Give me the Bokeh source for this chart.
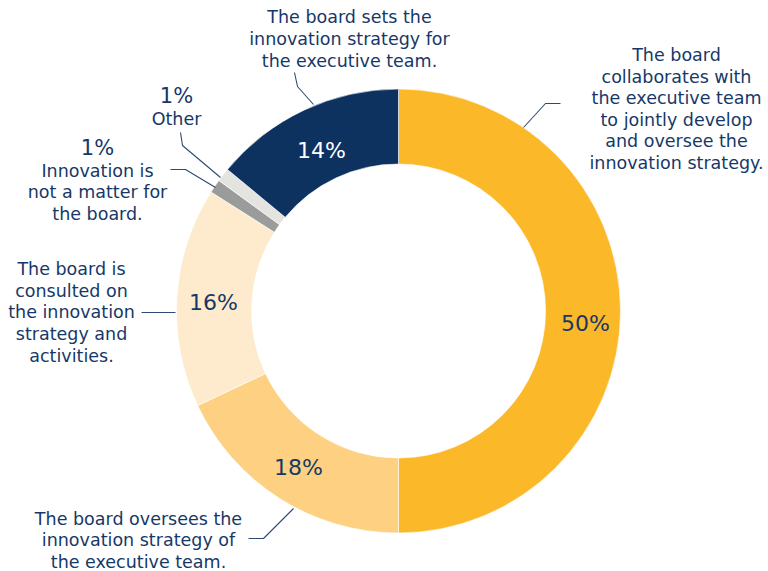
import math
from bokeh.plotting import figure
from bokeh.models import Range1d
from bokeh.core.properties import value
from bokeh.embed import file_html
from bokeh.resources import INLINE

# ---- data ----
categories = [
    "The board collaborates with the executive team to jointly develop and oversee the innovation strategy.",
    "The board oversees the innovation strategy of the executive team.",
    "The board is consulted on the innovation strategy and activities.",
    "Innovation is not a matter for the board.",
    "Other",
    "The board sets the innovation strategy for the executive team.",
]
shares = [50, 18, 16, 1, 1, 14]
pct_labels = ["50%", "18%", "16%", "1%", "1%", "14%"]
colors = ["#FBB829", "#FDD181", "#FEEBCD", "#9A9C9B", "#E3E4DF", "#0E3260"]

NAVY = "#163868"
FONT = "DejaVu Sans"

W, H = 768, 571
p = figure(width=W, height=H, output_backend="svg", toolbar_location=None,
           x_range=Range1d(0, W), y_range=Range1d(0, H),
           min_border=0)
p.axis.visible = False
p.grid.visible = False
p.outline_line_color = None
p.background_fill_color = "white"
p.border_fill_color = "white"

def Y(py):
    return 571 - py

cx, cy = 398, Y(310.5)
r_out, r_in = 222, 147

total = sum(shares)
starts, ends = [], []
cum = 0
for s in shares:
    a0 = math.pi / 2 - 2 * math.pi * cum / total
    cum += s
    a1 = math.pi / 2 - 2 * math.pi * cum / total
    starts.append(a0)
    ends.append(a1)

p.annular_wedge(x=[cx] * len(shares), y=[cy] * len(shares), inner_radius=r_in, outer_radius=r_out,
                start_angle=starts, end_angle=ends, direction="clock",
                fill_color=colors, line_color="white", line_width=0.6)

# percentage labels inside ring (large slices)
inner_pos = {0: (585, 323), 1: (298, 467), 2: (213, 302), 5: (321, 150)}
for i, (px, py) in inner_pos.items():
    p.text(x=[px], y=[Y(py)], text=[pct_labels[i]], text_font=value(FONT), text_font_size="22px",
           text_align="center", text_baseline="middle",
           text_color="white" if i == 5 else NAVY)

# leader lines
leaders = [
    [(523, 127), (545, 103), (560, 103)],
    [(293, 508), (263, 538), (248, 538)],
    [(175, 312), (141, 312)],
    [(215, 187), (185, 169), (170, 169)],
    [(220, 177), (182, 145), (180, 132)],
    [(313, 104), (297, 86), (294, 72)],
]
for pts in leaders:
    p.line(x=[a for a, b in pts], y=[Y(b) for a, b in pts], line_color="#2E4A73", line_width=1.1)

# outside text blocks
blocks = [
    (676, 108.5, "The board\ncollaborates with\nthe executive team\nto jointly develop\nand oversee the\ninnovation strategy."),
    (138, 540, "The board oversees the\ninnovation strategy of\nthe executive team."),
    (71, 312, "The board is\nconsulted on\nthe innovation\nstrategy and\nactivities."),
    (97, 192, "Innovation is\nnot a matter for\nthe board."),
    (176, 118, "Other"),
    (349, 38.5, "The board sets the\ninnovation strategy for\nthe executive team."),
]
for bx, by, t in blocks:
    p.text(x=[bx], y=[Y(by)], text=[t], text_font=value(FONT), text_font_size="17.5px",
           text_align="center", text_baseline="middle", text_line_height=1.08, text_color=NAVY)

small_pct = [(97, 147, pct_labels[3]), (176, 95, pct_labels[4])]
for bx, by, t in small_pct:
    p.text(x=[bx], y=[Y(by)], text=[t], text_font=value(FONT), text_font_size="21px",
           text_align="center", text_baseline="middle", text_color=NAVY)

open("out.html", "w").write(file_html(p, INLINE))
